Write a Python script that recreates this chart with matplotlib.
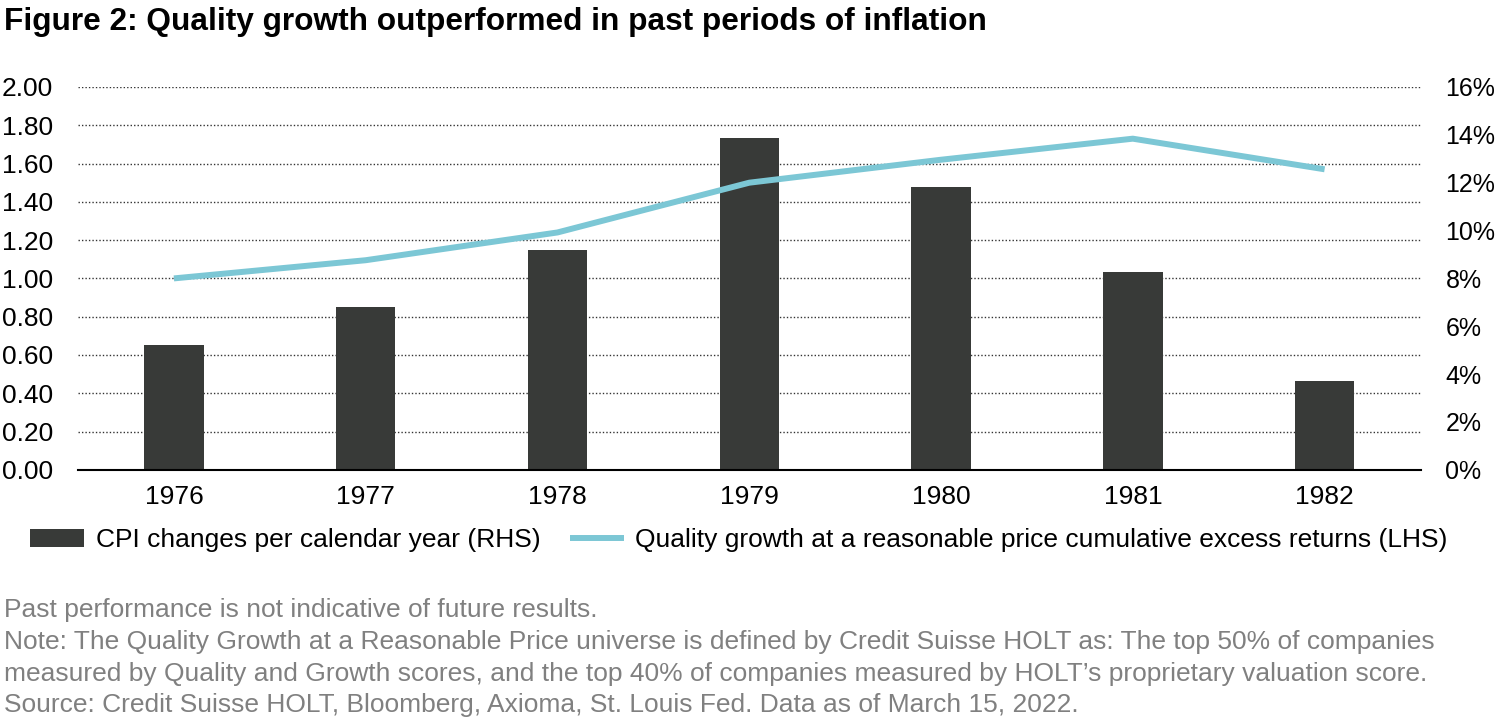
import matplotlib
matplotlib.use("Agg")
import matplotlib.pyplot as plt
from matplotlib.ticker import FuncFormatter

years = ["1976", "1977", "1978", "1979", "1980", "1981", "1982"]
cpi_pct = [5.2, 6.8, 9.2, 13.85, 11.8, 8.25, 3.7]
qgarp = [1.00, 1.095, 1.24, 1.50, 1.62, 1.73, 1.57]
left_ticks = [0.0, 0.2, 0.4, 0.6, 0.8, 1.0, 1.2, 1.4, 1.6, 1.8, 2.0]
right_ticks = [0, 2, 4, 6, 8, 10, 12, 14, 16]

title = "Figure 2: Quality growth outperformed in past periods of inflation"
bar_label = "CPI changes per calendar year (RHS)"
line_label = "Quality growth at a reasonable price cumulative excess returns (LHS)"
notes = [
    "Past performance is not indicative of future results.",
    "Note: The Quality Growth at a Reasonable Price universe is defined by Credit Suisse HOLT as: The top 50% of companies",
    "measured by Quality and Growth scores, and the top 40% of companies measured by HOLT\u2019s proprietary valuation score.",
    "Source: Credit Suisse HOLT, Bloomberg, Axioma, St. Louis Fed. Data as of March 15, 2022.",
]

plt.rcParams['font.family'] = ['Liberation Sans', 'DejaVu Sans']

BAR_C = "#383a38"
LINE_C = "#7cc7d5"
NOTE_C = "#808080"

fig = plt.figure(figsize=(15, 7.25), dpi=100)
ax = fig.add_axes([0.052, 0.352, 0.895, 0.528])
ax2 = ax.twinx()

x = list(range(len(years)))

# bars on right axis
ax2.bar(x, cpi_pct, width=0.31, color=BAR_C, zorder=2, label=bar_label)
ax2.set_ylim(0, 16)
ax2.set_yticks(right_ticks)
ax2.yaxis.set_major_formatter(FuncFormatter(lambda v, p: f"{v:.0f}%"))

# line on left axis (drawn above bars)
ax.set_zorder(ax2.get_zorder() + 1)
ax.patch.set_visible(False)
ax.plot(x, qgarp, color=LINE_C, lw=4.3, solid_capstyle='butt', zorder=3, label=line_label)
ax.set_ylim(0, 2.0)
ax.set_yticks(left_ticks)
ax.yaxis.set_major_formatter(FuncFormatter(lambda v, p: f"{v:.2f}"))
ax.set_xlim(-0.5, len(years) - 0.5)
ax.set_xticks(x)
ax.set_xticklabels(years)

# gridlines behind bars
for t in left_ticks[1:]:
    ax2.axhline(t * 8, color="#333333", lw=1.0, ls=(0, (1, 1.5)), zorder=1)

for a in (ax, ax2):
    for s in a.spines.values():
        s.set_visible(False)
    a.tick_params(length=0, colors="#000000")
ax.tick_params(axis='both', labelsize=19)
ax2.tick_params(axis='y', labelsize=18, pad=18)
ax.spines['bottom'].set_visible(True)
ax.spines['bottom'].set_color("#000000")
ax.spines['bottom'].set_linewidth(1.5)
ax.tick_params(axis='y', pad=18)
ax.tick_params(axis='x', pad=11)

# legend
h1, l1 = ax2.get_legend_handles_labels()
h2, l2 = ax.get_legend_handles_labels()
fig.legend(h1 + h2, l1 + l2, loc='center', bbox_to_anchor=(0.4927, 0.255), ncol=2,
           frameon=False, fontsize=19, handlelength=2.05, handleheight=0.7,
           columnspacing=1.14, handletextpad=0.42)

fig.text(0.003, 0.969, title, fontsize=22.8, fontweight='bold', ha='left', va='center')

y0 = 0.158
for i, line in enumerate(notes):
    fig.text(0.003, y0 - i * 0.0435, line, fontsize=19, color=NOTE_C, ha='left', va='center')

fig.savefig("out.png", dpi=100)
